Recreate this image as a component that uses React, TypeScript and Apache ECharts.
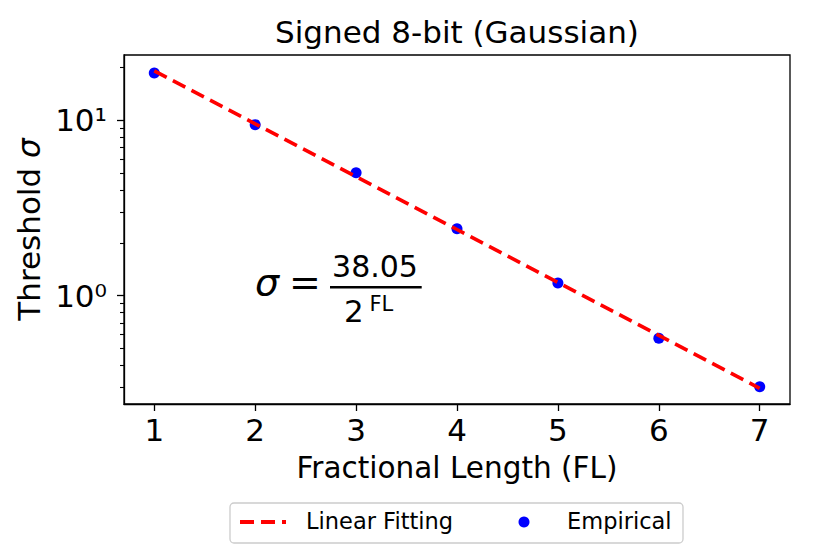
import React, { useEffect, useRef } from "react";
import * as echarts from "echarts";

// ---- data ----
const fractionalLengths = [1, 2, 3, 4, 5, 6, 7];
const empirical = [18.5, 9.4, 5.0, 2.4, 1.18, 0.572, 0.303];
const linearFitting = [19.0, 9.5, 4.76, 2.38, 1.19, 0.595, 0.297];
const xTicks = [1, 2, 3, 4, 5, 6, 7];
const yMajorTicks = [1, 10];
const yMajorLabels = ["10⁰", "10¹"];
const yMinorTicks = [0.3, 0.4, 0.5, 0.6, 0.7, 0.8, 0.9, 2, 3, 4, 5, 6, 7, 8, 9, 20];
const xRange = [0.7, 7.3];
const yRange = [0.242, 23.4];
const legendNames = ["Linear Fitting", "Empirical"];

const FONT = "DejaVu Sans";

export default function App() {
  const ref = useRef<HTMLDivElement>(null);
  useEffect(() => {
    if (!ref.current) return;
    const chart = echarts.init(ref.current, null, { renderer: "svg" });
    const lg = (v: number) => Math.log10(v);
    const yMin = lg(yRange[0]);
    const yMax = lg(yRange[1]);

    chart.setOption({
      animation: false,
      backgroundColor: "#ffffff",
      textStyle: { fontFamily: FONT },
      title: {
        text: "Signed 8-bit (Gaussian)",
        left: 457,
        top: 16,
        textAlign: "center",
        padding: 0,
        textStyle: { fontFamily: FONT, fontSize: 31, fontWeight: "normal", color: "#000" },
      },
      grid: {
        left: 124,
        top: 55,
        width: 666,
        height: 349,
        show: true,
        borderColor: "#000",
        borderWidth: 1.3,
        backgroundColor: "#fff",
      },
      xAxis: {
        type: "value",
        min: xRange[0],
        max: xRange[1],
        name: "Fractional Length (FL)",
        nameLocation: "middle",
        nameGap: 49,
        nameTextStyle: { fontFamily: FONT, fontSize: 29.5, color: "#000" },
        axisLine: { show: true, onZero: false, lineStyle: { color: "#000", width: 1.3 } },
        axisTick: { show: true, length: 7, customValues: xTicks, lineStyle: { color: "#000", width: 1.3 } },
        axisLabel: { show: true, customValues: xTicks, margin: 10, fontFamily: FONT, fontSize: 31, color: "#000" },
        splitLine: { show: false },
      },
      yAxis: [
        {
          type: "value",
          min: yMin,
          max: yMax,
          position: "left",
          name: "Threshold {i|σ}",
          nameLocation: "middle",
          nameGap: 76,
          nameTextStyle: {
            fontFamily: FONT,
            fontSize: 31,
            color: "#000",
            rich: { i: { fontFamily: FONT, fontSize: 31, fontStyle: "italic", color: "#000" } },
          },
          axisLine: { show: true, onZero: false, lineStyle: { color: "#000", width: 1.3 } },
          axisTick: { show: true, length: 7, customValues: yMajorTicks.map(lg), lineStyle: { color: "#000", width: 1.3 } },
          axisLabel: {
            show: true,
            customValues: yMajorTicks.map(lg),
            margin: 17,
            fontFamily: FONT,
            fontSize: 31,
            color: "#000",
            formatter: (v: number) => yMajorLabels[Math.round(v)],
          },
          splitLine: { show: false },
        },
        {
          type: "value",
          min: yMin,
          max: yMax,
          position: "left",
          axisLine: { show: false, onZero: false },
          axisTick: { show: true, length: 4, customValues: yMinorTicks.map(lg), lineStyle: { color: "#000", width: 1.1 } },
          axisLabel: { show: false },
          splitLine: { show: false },
        },
      ],
      graphic: [
        // formula annotation
        { type: "text", x: 255, y: 282, style: { text: "σ", font: `italic 38px "${FONT}"`, fill: "#000", textAlign: "left", textVerticalAlign: "middle" } },
        { type: "text", x: 289, y: 282, style: { text: "=", font: `38px "${FONT}"`, fill: "#000", textAlign: "left", textVerticalAlign: "middle" } },
        { type: "text", x: 375, y: 266.5, style: { text: "38.05", font: `30px "${FONT}"`, fill: "#000", textAlign: "center", textVerticalAlign: "middle" } },
        { type: "line", shape: { x1: 330, y1: 287.3, x2: 421.7, y2: 287.3 }, style: { stroke: "#000", lineWidth: 2.5 } },
        { type: "text", x: 344, y: 311, style: { text: "2", font: `31px "${FONT}"`, fill: "#000", textAlign: "left", textVerticalAlign: "middle" } },
        { type: "text", x: 369.5, y: 303.5, style: { text: "FL", font: `21px "${FONT}"`, fill: "#000", textAlign: "left", textVerticalAlign: "middle" } },
        // legend box
        { type: "rect", z: 10, shape: { x: 230, y: 503, width: 453, height: 40, r: 4 }, style: { fill: "rgba(255,255,255,0.8)", stroke: "#cccccc", lineWidth: 1.3 } },
        { type: "line", z: 11, shape: { x1: 240, y1: 522, x2: 286, y2: 522 }, style: { stroke: "#ff0000", lineWidth: 3.8, lineDash: [14, 7] } },
        { type: "text", z: 11, x: 306, y: 521, style: { text: legendNames[0], font: `22.5px "${FONT}"`, fill: "#000", textAlign: "left", textVerticalAlign: "middle" } },
        { type: "circle", z: 11, shape: { cx: 524, cy: 522, r: 5.5 }, style: { fill: "#0000ff" } },
        { type: "text", z: 11, x: 567, y: 521, style: { text: legendNames[1], font: `22.5px "${FONT}"`, fill: "#000", textAlign: "left", textVerticalAlign: "middle" } },
      ],
      series: [
        {
          name: legendNames[1],
          type: "scatter",
          yAxisIndex: 0,
          symbol: "circle",
          symbolSize: 11,
          itemStyle: { color: "#0000ff", opacity: 1 },
          z: 2,
          data: fractionalLengths.map((x, i) => [x, lg(empirical[i])]),
        },
        {
          name: legendNames[0],
          type: "line",
          yAxisIndex: 0,
          symbol: "none",
          showSymbol: false,
          itemStyle: { color: "#ff0000" },
          lineStyle: { color: "#ff0000", width: 3.6, type: [14, 7] },
          z: 3,
          data: fractionalLengths.map((x, i) => [x, lg(linearFitting[i])]),
        },
      ],
    });
    return () => chart.dispose();
  }, []);
  return (
    <div
      ref={ref}
      style={{ position: "absolute", left: 0, top: 0, width: 830, height: 554, background: "#fff" }}
    />
  );
}
